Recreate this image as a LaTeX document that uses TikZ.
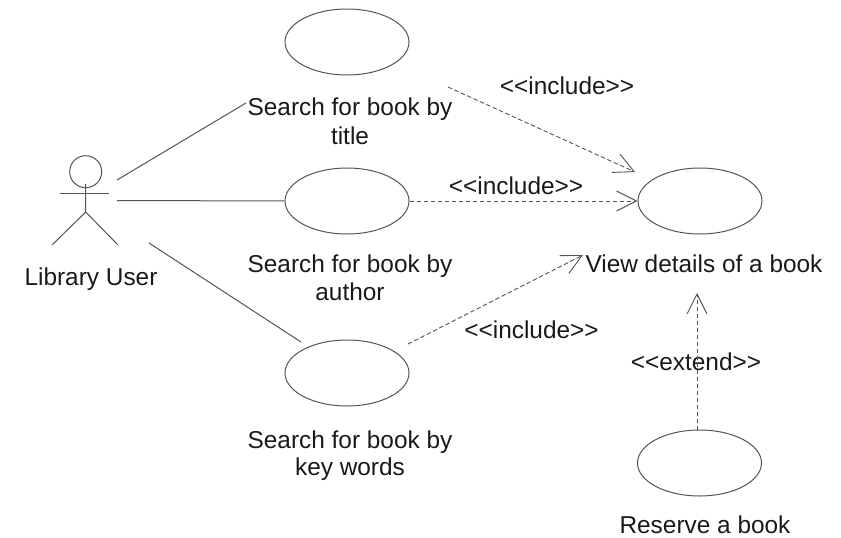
\documentclass[tikz,border=0pt]{standalone}
\usepackage{fontspec}
\setmainfont{Liberation Sans}
\usetikzlibrary{arrows.meta,shapes.geometric}
\definecolor{ln}{gray}{0.33}
\tikzset{
  usecase/.style={draw=ln,ellipse,line width=1pt,minimum width=124pt,minimum height=66pt,inner sep=0pt},
  lbl/.style={font=\fontsize{24.4}{27.5}\selectfont,align=center,text=black!90,inner sep=0pt},
  assoc/.style={draw=ln,line width=1pt},
  dep/.style={draw=ln,line width=0.9pt,dash pattern=on 4.5pt off 2.5pt,-{Straight Barb[length=20pt,width=20pt,line width=0.9pt]}}
}
\begin{document}
\begin{tikzpicture}[x=1pt,y=-1pt]
\useasboundingbox (0,0) rectangle (841,538);
\node[usecase] (u1) at (347,42) {};
\node[usecase] (u2) at (347,201) {};
\node[usecase] (u3) at (347,373) {};
\node[usecase] (v) at (700,201) {};
\node[usecase] (r) at (699.5,463) {};
\node[lbl] (t1) at (350,121) {Search for book by\\[1.8pt]title};
\node[lbl] (t2) at (350,278) {Search for book by\\[0.5pt]author};
\node[lbl] (t3) at (350,456) {Search for book by\\[-0.5pt]key words};
\node[lbl] (tv) at (704,264) {View details of a book};
\node[lbl] (tr) at (705,524.5) {Reserve a book};
\node[lbl] (tu) at (91,279) {Library User};
\node[lbl] (i1) at (567,86) {<{}<include>{}>};
\node[lbl] (i2) at (516,185.5) {<{}<include>{}>};
\node[lbl] (i3) at (531.5,329.5) {<{}<include>{}>};
\node[lbl] (e1) at (696,361.5) {<{}<extend>{}>};
% actor
\node[draw=ln,circle,line width=1pt,minimum size=32pt,inner sep=0pt] (head) at (85.7,171.7) {};
\coordinate (hip) at (85.7,212);
\coordinate (neck) at (85.7,184);
\coordinate (al) at (60,193);
\coordinate (ar) at (109,193);
\coordinate (ll) at (52,245);
\coordinate (lr) at (118,245);
\draw[assoc] (neck) -- (hip) -- (ll);
\draw[assoc] (hip) -- (lr);
\draw[assoc] (al) -- (ar);
% associations
\coordinate (a1) at (117,180);
\coordinate (a1e) at (246,103);
\coordinate (a2) at (117,200.5);
\coordinate (a3) at (149,243);
\coordinate (a3e) at (301,342);
\draw[assoc] (a1) -- (a1e);
\draw[assoc] (a2) -- (u2.west);
\draw[assoc] (a3) -- (a3e);
% dependencies
\coordinate (d1) at (448,87);
\coordinate (d1e) at (635,172);
\coordinate (d3) at (408,344);
\coordinate (d3e) at (583,255);
\coordinate (d4) at (697,430);
\coordinate (d4e) at (697,293);
\draw[dep] (d1) -- (d1e);
\draw[dep] (u2.east) -- (v.west);
\draw[dep] (d3) -- (d3e);
\draw[dep] (d4) -- (d4e);
\end{tikzpicture}
\end{document}
